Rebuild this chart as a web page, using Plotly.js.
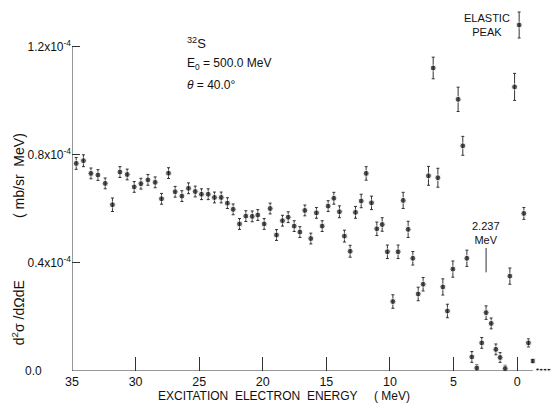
<!DOCTYPE html>
<html><head><meta charset="utf-8">
<script src="https://cdn.plot.ly/plotly-3.0.1.min.js"></script>
<style>html,body{margin:0;padding:0;background:#fff}#c{width:554px;height:404px}</style>
</head><body><div id="c"></div>
<script>
// Excitation energy (MeV)
const energy = [34.67,34.10,33.51,32.96,32.39,31.82,31.23,30.66,30.11,29.58,29.03,28.46,27.96,27.41,26.89,26.36,25.84,25.31,24.82,24.29,23.80,23.27,22.78,22.33,21.83,21.33,20.83,20.39,19.89,19.42,18.92,18.45,18.00,17.53,17.08,16.69,16.22,15.78,15.33,14.86,14.41,13.97,13.58,13.13,12.71,12.26,11.87,11.45,11.03,10.61,10.20,9.77,9.36,8.96,8.57,8.20,7.78,7.39,6.97,6.60,6.23,5.84,5.48,5.05,4.64,4.27,3.95,3.56,3.17,2.78,2.44,2.04,1.67,1.34,0.94,0.57,0.20,-0.16,-0.53,-0.89,-1.23,-1.61,-1.89,-2.20,-2.50];
// d2sigma/dOmega dE in units of 1e-4 mb/sr MeV
const crossSection = [0.768,0.778,0.731,0.725,0.694,0.615,0.736,0.727,0.681,0.693,0.707,0.698,0.637,0.732,0.663,0.647,0.676,0.664,0.654,0.654,0.642,0.642,0.621,0.598,0.544,0.573,0.572,0.577,0.544,0.601,0.503,0.556,0.569,0.536,0.514,0.594,0.490,0.585,0.536,0.610,0.639,0.589,0.499,0.443,0.587,0.629,0.731,0.622,0.526,0.542,0.441,0.257,0.441,0.631,0.524,0.417,0.285,0.321,0.722,1.121,0.715,0.311,0.222,0.377,1.005,0.833,0.417,0.052,0.011,0.104,0.216,0.176,0.080,0.050,0.009,0.351,1.051,1.280,0.583,0.104,0.037,0.006,0.005,0.005,0.005];
const errors = [0.022,0.022,0.02,0.02,0.02,0.025,0.02,0.02,0.02,0.02,0.02,0.02,0.02,0.02,0.02,0.02,0.02,0.02,0.02,0.02,0.02,0.02,0.02,0.02,0.02,0.02,0.02,0.02,0.02,0.02,0.02,0.02,0.02,0.02,0.02,0.02,0.02,0.02,0.02,0.02,0.022,0.022,0.022,0.022,0.022,0.025,0.025,0.025,0.025,0.025,0.025,0.025,0.025,0.03,0.03,0.025,0.025,0.025,0.035,0.04,0.035,0.03,0.025,0.03,0.045,0.035,0.03,0.02,0.012,0.02,0.025,0.02,0.02,0.018,0.012,0.03,0.05,0.048,0.022,0.015,0.008,0,0,0,0];
const xTicks = [35,30,25,20,15,10,5,0];
const yTicks = [0,0.4,0.8,1.2];
const yTickText = ['0.0','0.4x10<sup>-4</sup>','0.8x10<sup>-4</sup>','1.2x10<sup>-4</sup>'];

const scale = 1e-4;
const yVals = crossSection.map(v => v*scale);
const yErr = errors.map(v => v*scale);
const sym = energy.map((e,i) => i===80 ? 'square' : 'circle');
const sz = energy.map((e,i) => i>80 ? 3 : (i===80 ? 5 : 6));
const NB = '\u00a0';
// the "0.0" label sits further left in the original; it is drawn as an annotation
const yTickLabels = yTickText.map((t,i) => i===0 ? '' : t);

const fam = 'Liberation Sans, Arial, sans-serif';
const ink = '#111';

const trace = {
  x: energy, y: yVals, type:'scatter', mode:'markers', cliponaxis:false,
  marker:{color:ink, size:sz, symbol:sym},
  error_y:{type:'data', array:yErr, visible:true, color:'#333', thickness:1, width:1.5}
};

const layout = {
  width:554, height:404,
  margin:{l:72, r:0, t:5, b:33},
  paper_bgcolor:'#fff', plot_bgcolor:'#fff',
  showlegend:false,
  font:{family:fam, size:12, color:ink},
  xaxis:{range:[35,-2.9], showgrid:false, zeroline:false, showline:false,
    tickvals:xTicks, ticktext:xTicks.map(String), ticks:'inside', ticklen:14, tickcolor:'#333', tickwidth:1,
    ticklabelstandoff:1, tickfont:{family:fam, size:12.5, color:ink}},
  yaxis:{range:[0,1.354*scale], showgrid:false, zeroline:false, showline:false,
    tickvals:yTicks.map(v=>v*scale), ticktext:yTickLabels, ticks:'inside', ticklen:8, tickcolor:'#333', tickwidth:1,
    tickfont:{family:fam, size:12, color:ink}},
  shapes:[
    {type:'line', xref:'x', yref:'y', x0:35, x1:35, y0:0, y1:1.2*scale, line:{color:'#333', width:1}},
    {type:'line', xref:'x', yref:'y', x0:35, x1:-1.0, y0:0, y1:0, line:{color:'#333', width:1}},
    {type:'line', xref:'x', yref:'y', x0:-1.0, x1:-1.5, y0:0, y1:0, line:{color:'#333', width:1, dash:'dot'}},
    {type:'line', xref:'x', yref:'y', x0:2.44, x1:2.44, y0:0.365*scale, y1:0.455*scale, line:{color:'#333', width:1}}
  ],
  annotations:[
    {xref:'paper', yref:'y', x:-0.058, y:yTicks[0]*scale, xanchor:'right', yanchor:'middle', showarrow:false,
     text:yTickText[0], font:{family:fam, size:12, color:ink}},
    {xref:'x', yref:'y', x:26.1, y:1.214*scale, xanchor:'left', yanchor:'middle', showarrow:false,
     text:'<sup>32</sup>S', font:{family:fam, size:13, color:ink}},
    {xref:'x', yref:'y', x:26.1, y:1.136*scale, xanchor:'left', yanchor:'middle', showarrow:false,
     text:'E<sub>0</sub> = 500.0 MeV', font:{family:fam, size:12, color:ink}},
    {xref:'x', yref:'y', x:26.1, y:1.058*scale, xanchor:'left', yanchor:'middle', showarrow:false,
     text:'<i>θ</i> = 40.0°', font:{family:fam, size:12, color:ink}},
    {xref:'x', yref:'y', x:2.36, y:1.28*scale, xanchor:'center', yanchor:'middle', showarrow:false,
     text:'ELASTIC<br>PEAK', font:{family:fam, size:11, color:ink}},
    {xref:'x', yref:'y', x:2.44, y:0.51*scale, xanchor:'center', yanchor:'middle', showarrow:false,
     text:'2.237<br>MeV', font:{family:fam, size:11, color:ink}},
    {xref:'paper', yref:'paper', x:0.44, y:-0.068, xanchor:'center', yanchor:'middle', showarrow:false,
     text:'EXCITATION  ELECTRON  ENERGY     ( MeV)', font:{family:fam, size:12, color:ink}},
    {xref:'paper', yref:'paper', x:-0.112, y:0.36, xanchor:'center', yanchor:'middle', showarrow:false, textangle:-90,
     text:'d<sup>2</sup>σ /dΩdE' + NB.repeat(16) + '( mb/sr  MeV)', font:{family:fam, size:14, color:ink}}
  ]
};
Plotly.newPlot('c', [trace], layout, {displayModeBar:false, staticPlot:true});
</script></body></html>
